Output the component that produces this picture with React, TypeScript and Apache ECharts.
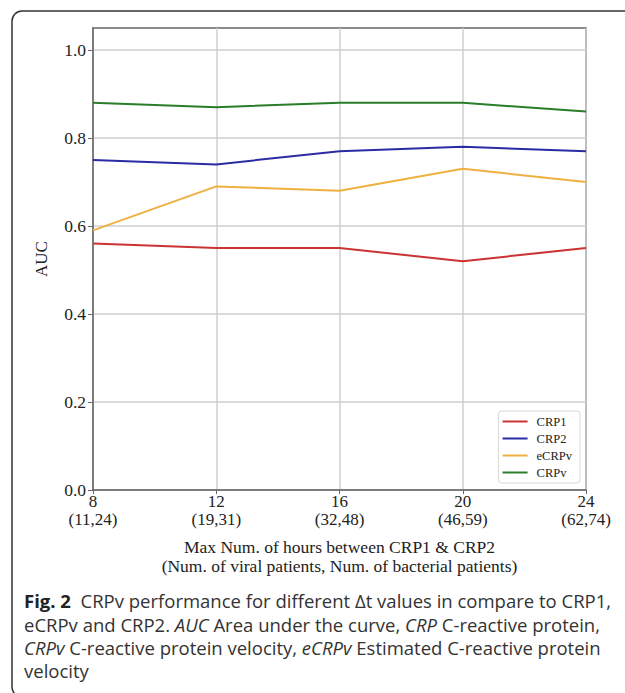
import React, { useEffect, useRef } from "react";
import * as echarts from "echarts";

const hours = [8, 12, 16, 20, 24];
const patientPairs = ["(11,24)", "(19,31)", "(32,48)", "(46,59)", "(62,74)"];
const crp1 = [0.56, 0.55, 0.55, 0.52, 0.55];
const crp2 = [0.75, 0.74, 0.77, 0.78, 0.77];
const ecrpv = [0.59, 0.69, 0.68, 0.73, 0.7];
const crpv = [0.88, 0.87, 0.88, 0.88, 0.86];
const yTicks = [0, 0.2, 0.4, 0.6, 0.8, 1.0];

const seriesDefs = [
  { name: "CRP1", values: crp1, color: "#cc3333" },
  { name: "CRP2", values: crp2, color: "#2b2ba6" },
  { name: "eCRPv", values: ecrpv, color: "#eeb13f" },
  { name: "CRPv", values: crpv, color: "#2a7d2a" },
];

const SERIF = "'Liberation Serif', 'DejaVu Serif', serif";
const SANS = "'Open Sans', 'Noto Sans', sans-serif";
const CAP = 18.5;

export default function App() {
  const ref = useRef<HTMLDivElement>(null);
  useEffect(() => {
    if (!ref.current) return;
    const chart = echarts.init(ref.current, undefined, { renderer: "svg" });
    const captionRich = {
      b: { fontFamily: SANS, fontSize: CAP, fontWeight: "bold", fill: "#222" },
      i: { fontFamily: SANS, fontSize: CAP, fontStyle: "italic", fill: "#333" },
      n: { fontFamily: SANS, fontSize: CAP, fill: "#333" },
    };
    const captionLines = [
      "{b|Fig. 2}{n|  CRPv performance for different Δt values in compare to CRP1,}",
      "{n|eCRPv and CRP2. }{i|AUC}{n| Area under the curve, }{i|CRP}{n| C-reactive protein,}",
      "{i|CRPv}{n| C-reactive protein velocity, }{i|eCRPv}{n| Estimated C-reactive protein}",
      "{n|velocity}",
    ];
    const captionY = [600, 624, 647, 670];
    chart.setOption({
      animation: false,
      backgroundColor: "#fff",
      grid: {
        left: 93,
        right: 39,
        top: 28,
        bottom: 203,
        show: true,
        borderColor: "#666",
        borderWidth: 1.5,
        backgroundColor: "transparent",
      },
      legend: {
        orient: "vertical",
        right: 45,
        bottom: 210,
        data: seriesDefs.map((s) => s.name),
        icon: "rect",
        itemWidth: 25,
        itemHeight: 2,
        itemGap: 4,
        padding: [4, 8, 4, 4],
        borderColor: "#d8d8d8",
        borderWidth: 1,
        borderRadius: 3,
        backgroundColor: "#fff",
        textStyle: { fontFamily: SERIF, fontSize: 12.5, color: "#222", padding: [0, 0, 0, 4] },
      },
      xAxis: {
        type: "value",
        min: 8,
        max: 24,
        interval: 4,
        name: "Max Num. of hours between CRP1 & CRP2\n(Num. of viral patients, Num. of bacterial patients)",
        nameLocation: "middle",
        nameGap: 47,
        nameTextStyle: { fontFamily: SERIF, fontSize: 17.5, color: "#222", lineHeight: 19 },
        axisLine: { show: true, lineStyle: { color: "#666", width: 1.5 } },
        axisTick: { show: true, length: 4, lineStyle: { color: "#666" } },
        axisLabel: {
          fontFamily: SERIF,
          fontSize: 17,
          color: "#222",
          lineHeight: 17.5,
          margin: 3,
          formatter: (v: number) => {
            const i = hours.indexOf(v);
            return i >= 0 ? `${v}\n${patientPairs[i]}` : "";
          },
        },
        splitLine: { show: true, lineStyle: { color: "#cfcfcf", width: 1.5 } },
      },
      yAxis: {
        type: "value",
        min: 0,
        max: 1.05,
        interval: 0.2,
        name: "AUC",
        nameLocation: "middle",
        nameGap: 43,
        nameTextStyle: { fontFamily: SERIF, fontSize: 17, color: "#222" },
        axisLine: { show: true, lineStyle: { color: "#666", width: 1.5 } },
        axisTick: { show: true, length: 5, customValues: yTicks, lineStyle: { color: "#666" } },
        axisLabel: {
          fontFamily: SERIF,
          fontSize: 17.5,
          color: "#222",
          margin: 7,
          customValues: yTicks,
          formatter: (v: number) => v.toFixed(1),
        },
        splitLine: { show: true, lineStyle: { color: "#cfcfcf", width: 1.5 } },
      },
      series: seriesDefs.map((s) => ({
        name: s.name,
        type: "line",
        data: hours.map((h, i) => [h, s.values[i]]),
        symbol: "none",
        lineStyle: { color: s.color, width: 2 },
        itemStyle: { color: s.color },
      })),
      graphic: [
        {
          type: "rect",
          shape: { x: 12, y: 11, width: 700, height: 686, r: 10 },
          style: { fill: "none", stroke: "#333", lineWidth: 1.5 },
          silent: true,
        },
        ...captionLines.map((t, k) => ({
          type: "text",
          x: 24,
          y: captionY[k],
          style: {
            text: t,
            rich: captionRich,
            verticalAlign: "middle",
            fontFamily: SANS,
            fontSize: CAP,
            fill: "#333",
          },
        })),
      ],
    });
    return () => chart.dispose();
  }, []);
  return (
    <div
      ref={ref}
      style={{ position: "absolute", left: 0, top: 0, width: 625, height: 693, background: "#fff" }}
    />
  );
}
